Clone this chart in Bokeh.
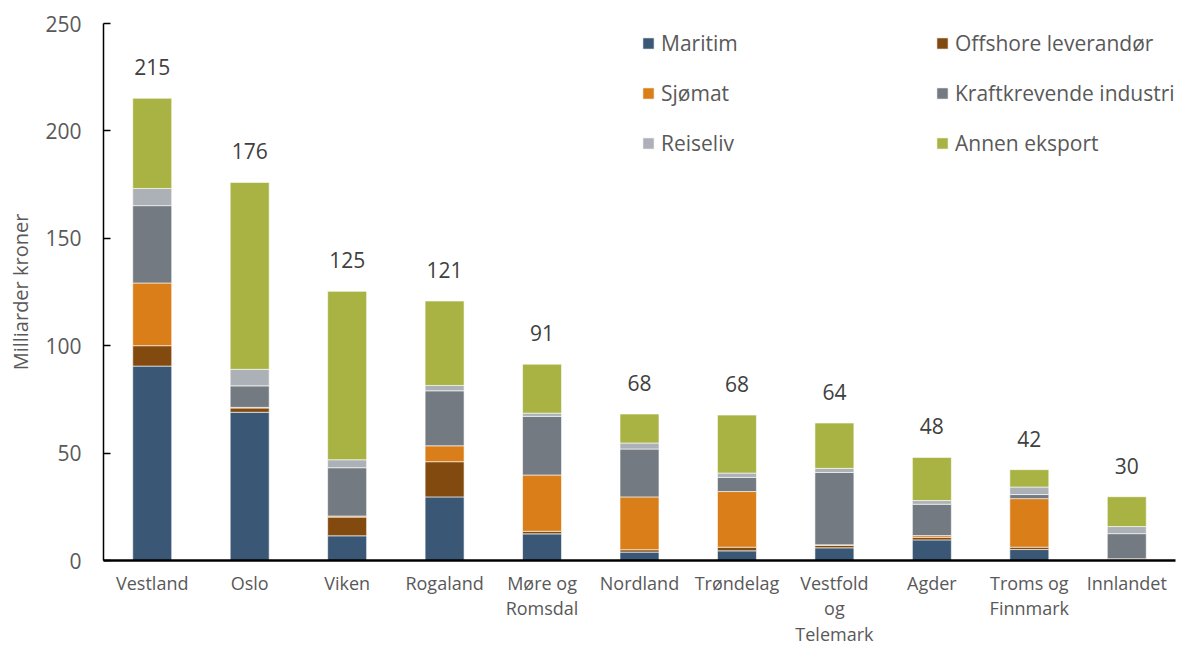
from bokeh.plotting import figure
from bokeh.models import ColumnDataSource, Range1d, FactorRange, Legend, LegendItem
from bokeh.embed import file_html
from bokeh.resources import INLINE
from bokeh.core.properties import value

regions = ["Vestland", "Oslo", "Viken", "Rogaland", "Møre og\nRomsdal", "Nordland",
           "Trøndelag", "Vestfold\nog\nTelemark", "Agder", "Troms og\nFinnmark", "Innlandet"]
maritim = [90.5, 69.0, 11.5, 29.6, 12.4, 3.9, 4.5, 5.9, 9.6, 5.1, 0.3]
offshore = [9.5, 2.0, 8.7, 16.4, 1.2, 1.1, 1.7, 1.2, 1.2, 1.1, 0.2]
sjomat = [29.2, 0.3, 0.5, 7.4, 26.2, 24.6, 25.9, 0.2, 0.8, 22.6, 0.3]
kraft = [36.0, 10.0, 22.5, 25.6, 27.3, 22.3, 6.6, 33.7, 14.6, 1.9, 11.7]
reiseliv = [8.0, 7.7, 3.7, 2.5, 1.5, 2.8, 2.0, 1.9, 1.7, 3.5, 3.3]
annen = [42.0, 87.0, 78.4, 39.3, 22.8, 13.5, 27.0, 21.1, 20.1, 8.1, 13.9]
totals = [215, 176, 125, 121, 91, 68, 68, 64, 48, 42, 30]

series_keys = ["maritim", "offshore", "sjomat", "kraft", "reiseliv", "annen"]
series_names = ["Maritim", "Offshore leverandør", "Sjømat", "Kraftkrevende industri",
                "Reiseliv", "Annen eksport"]
colors = ["#3A5775", "#834A10", "#D97E18", "#737A81", "#ABB1B7", "#A8B343"]

FONT = "Open Sans"

data = dict(region=regions, maritim=maritim, offshore=offshore, sjomat=sjomat,
            kraft=kraft, reiseliv=reiseliv, annen=annen)
source = ColumnDataSource(data)

p = figure(x_range=FactorRange(factors=regions, range_padding=0),
           y_range=Range1d(0, 250), width=1177, height=648,
           output_backend="svg", toolbar_location=None,
           min_border_left=103, min_border_right=2, min_border_top=23, min_border_bottom=87)
p.outline_line_color = None
p.xgrid.grid_line_color = None
p.ygrid.grid_line_color = None

renderers = p.vbar_stack(series_keys, x="region", width=0.4, source=source,
                         color=colors, line_color="white", line_width=0.6)

stack_tops = [sum(v) for v in zip(maritim, offshore, sjomat, kraft, reiseliv, annen)]
lab_src = ColumnDataSource(dict(region=regions, y=stack_tops, txt=[str(t) for t in totals]))
p.text(x="region", y="y", text="txt", source=lab_src, text_align="center",
       text_baseline="bottom", y_offset=-23, text_font=value(FONT),
       text_font_size="21px", text_color="#404040")

# axes
p.yaxis.ticker = [0, 50, 100, 150, 200, 250]
p.yaxis.axis_label = "Milliarder kroner"
p.yaxis.axis_label_text_font = FONT
p.yaxis.axis_label_text_font_size = "20px"
p.yaxis.axis_label_text_font_style = "normal"
p.yaxis.axis_label_text_color = "#595959"
p.yaxis.axis_label_standoff = 8
p.yaxis.major_label_text_font = FONT
p.yaxis.major_label_text_font_size = "21px"
p.yaxis.major_label_text_color = "#595959"
p.yaxis.major_label_standoff = 22
p.yaxis.major_tick_in = 7
p.yaxis.major_tick_out = 0
p.yaxis.minor_tick_line_color = None
p.yaxis.axis_line_color = "#000000"
p.yaxis.axis_line_width = 1.5
p.yaxis.major_tick_line_color = "#000000"
p.yaxis.major_tick_line_width = 1.5

p.xaxis.major_label_text_font = FONT
p.xaxis.major_label_text_font_size = "18px"
p.xaxis.major_label_text_line_height = 1.07
p.xaxis.major_label_text_color = "#595959"
p.xaxis.major_label_standoff = 4
p.xaxis.major_tick_line_color = None
p.xaxis.minor_tick_line_color = None
p.xaxis.axis_line_color = "#000000"
p.xaxis.axis_line_width = 2.5

def make_legend(idx, x):
    items = [LegendItem(label=series_names[i], renderers=[renderers[i]]) for i in idx]
    lg = Legend(items=items, location=(x, 403), orientation="vertical",
                glyph_width=14, glyph_height=14, label_standoff=6,
                label_text_font=FONT, label_text_font_size="21px",
                label_text_color="#595959", label_height=20, spacing=22,
                padding=0, margin=0, border_line_color=None,
                background_fill_alpha=0)
    p.add_layout(lg, "center")

make_legend([0, 2, 4], 538)
make_legend([1, 3, 5], 832)

open("out.html", "w").write(file_html(p, INLINE))
